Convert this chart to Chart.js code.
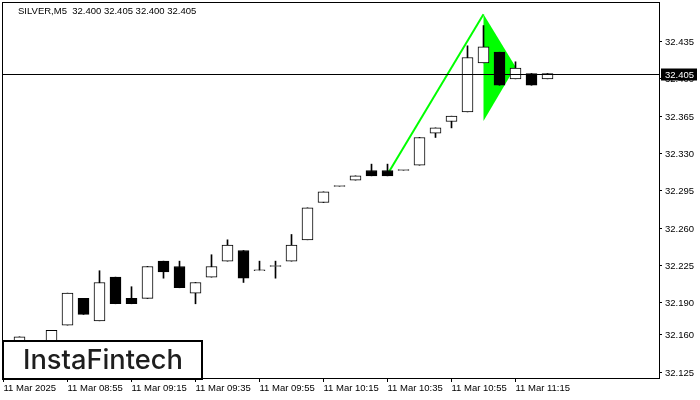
<!DOCTYPE html>
<html>
<head>
<meta charset="utf-8">
<script src="https://cdn.jsdelivr.net/npm/chart.js@4.4.1/dist/chart.umd.min.js"></script>
<style>
  html, body { margin: 0; padding: 0; background: #fff; }
  #wrap { width: 700px; height: 400px; }
</style>
</head>
<body>
<div id="wrap"><canvas id="chart" width="700" height="400"></canvas></div>
<script>
// M5 bars, 11 Mar 2025 (null = bar hidden under the logo)
const times = ['08:35', '08:40', '08:45', '08:50', '08:55', '09:00', '09:05', '09:10', '09:15', '09:20',
  '09:25', '09:30', '09:35', '09:40', '09:45', '09:50', '09:55', '10:00', '10:05', '10:10',
  '10:15', '10:20', '10:25', '10:30', '10:35', '10:40', '10:45', '10:50', '10:55', '11:00',
  '11:05', '11:10', '11:15', '11:20', '11:25'];
const opens = [null, 32.154, null, 32.150, 32.169, 32.194, 32.173, 32.214, 32.194, 32.194,
  32.229, 32.224, 32.199, 32.214, 32.229, 32.239, 32.220, 32.224, 32.229, 32.249,
  32.284, 32.299, 32.305, 32.314, 32.314, 32.314, 32.319, 32.349, 32.360, 32.369,
  32.415, 32.425, 32.400, 32.405, 32.400];
const highs = [null, 32.158, null, 32.164, 32.199, 32.194, 32.220, 32.214, 32.205, 32.224,
  32.229, 32.229, 32.209, 32.235, 32.249, 32.239, 32.229, 32.229, 32.254, 32.279,
  32.294, 32.299, 32.309, 32.320, 32.320, 32.314, 32.345, 32.354, 32.365, 32.431,
  32.450, 32.425, 32.416, 32.405, 32.405];
const lows = [null, 32.154, null, 32.150, 32.169, 32.179, 32.173, 32.189, 32.189, 32.194,
  32.213, 32.204, 32.189, 32.214, 32.229, 32.209, 32.220, 32.213, 32.229, 32.249,
  32.284, 32.299, 32.305, 32.309, 32.309, 32.314, 32.319, 32.345, 32.354, 32.369,
  32.415, 32.394, 32.400, 32.394, 32.400];
const closes = [null, 32.158, null, 32.164, 32.199, 32.179, 32.209, 32.189, 32.189, 32.224,
  32.219, 32.204, 32.209, 32.224, 32.244, 32.213, 32.220, 32.224, 32.244, 32.279,
  32.294, 32.299, 32.309, 32.309, 32.309, 32.314, 32.345, 32.354, 32.365, 32.420,
  32.430, 32.394, 32.410, 32.394, 32.405];

// price scale labels
const yTicks = [32.125, 32.160, 32.190, 32.225, 32.260, 32.295, 32.330, 32.365, 32.400, 32.435];

// bullish pennant: pole (bar index, price) and the triangle
const poleIdx = [24, 30];
const polePrice = [32.3105, 32.4606];
const flagIdx = [30, 32, 30];
const flagPrice = [32.4606, 32.4114, 32.3605];

const title = 'SILVER,M5  32.400 32.405 32.400 32.405';
const FONT = 'Liberation Sans';

const wicks = [];
const bodies = [];
const bodyColors = [];
times.forEach((t, i) => {
  if (opens[i] === null) return;
  wicks.push({ x: i, y: [lows[i], highs[i]] });
  bodies.push({ x: i, y: [Math.min(opens[i], closes[i]), Math.max(opens[i], closes[i])] });
  bodyColors.push(closes[i] >= opens[i] ? '#ffffff' : '#000000');
});

const terminal = {
  id: 'terminal',
  beforeDatasetsDraw(chart) {
    const { ctx, chartArea: a, scales: { x, y } } = chart;
    ctx.save();
    ctx.beginPath();
    ctx.rect(a.left, a.top, a.right - a.left, a.bottom - a.top);
    ctx.clip();
    // flag
    ctx.fillStyle = '#00ff00';
    ctx.beginPath();
    flagIdx.forEach((v, i) => {
      const px = x.getPixelForValue(v), py = y.getPixelForValue(flagPrice[i]);
      if (i === 0) ctx.moveTo(px, py); else ctx.lineTo(px, py);
    });
    ctx.closePath();
    ctx.fill();
    // pole
    ctx.strokeStyle = '#00ff00';
    ctx.lineWidth = 2;
    ctx.beginPath();
    ctx.moveTo(x.getPixelForValue(poleIdx[0]), y.getPixelForValue(polePrice[0]));
    ctx.lineTo(x.getPixelForValue(poleIdx[1]), y.getPixelForValue(polePrice[1]));
    ctx.stroke();
    ctx.restore();
  },
  afterDraw(chart) {
    const { ctx, chartArea: a, scales: { y } } = chart;
    const last = closes[closes.length - 1];
    const py = Math.round(y.getPixelForValue(last)) + 0.5;
    ctx.save();
    // frame
    ctx.strokeStyle = '#000';
    ctx.lineWidth = 1;
    ctx.strokeRect(a.left - 0.5, a.top - 0.5, a.right - a.left + 1, a.bottom - a.top + 1);
    // bid line
    ctx.beginPath();
    ctx.moveTo(a.left, py);
    ctx.lineTo(a.right, py);
    ctx.stroke();
    // bid label
    ctx.fillStyle = '#000';
    ctx.fillRect(a.right + 2, py - 6, 36, 12);
    ctx.fillStyle = '#fff';
    ctx.font = '9.5px "' + FONT + '"';
    ctx.textBaseline = 'middle';
    ctx.textAlign = 'left';
    ctx.fillText(last.toFixed(3), a.right + 6, py + 0.5);
    // title
    ctx.fillStyle = '#000';
    ctx.fillText(title, 18, 11);
    // logo
    ctx.fillStyle = '#fff';
    ctx.fillRect(3, 341, 199, 38);
    ctx.strokeStyle = '#000';
    ctx.lineWidth = 2;
    ctx.strokeRect(3, 341, 199, 38);
    ctx.fillStyle = '#1e1e1e';
    let size = 26;
    ctx.font = '500 ' + size + 'px "Inter"';
    size = size * 160 / ctx.measureText('InstaFintech').width;
    ctx.font = '500 ' + size + 'px "Inter"';
    ctx.textBaseline = 'alphabetic';
    ctx.fillText('InstaFintech', 23, 368.5);
    ctx.restore();
  }
};

Chart.defaults.font.family = FONT;
Chart.defaults.font.size = 9.5;
Chart.defaults.color = '#000';

new Chart(document.getElementById('chart'), {
  type: 'bar',
  data: {
    datasets: [
      {
        data: wicks,
        backgroundColor: '#000',
        barThickness: 1,
        grouped: false,
        order: 2
      },
      {
        data: bodies,
        backgroundColor: bodyColors,
        borderColor: '#000',
        borderWidth: 1,
        borderSkipped: false,
        barThickness: 11,
        minBarLength: 1,
        grouped: false,
        order: 1
      }
    ]
  },
  options: {
    responsive: false,
    animation: false,
    layout: { padding: { left: 3, top: 3, right: 0, bottom: 0 } },
    plugins: { legend: { display: false }, tooltip: { enabled: false } },
    scales: {
      x: {
        type: 'linear',
        offset: false,
        min: -1 / 32,
        max: 41 - 1 / 32,
        afterFit: (s) => { s.height = 22; s.paddingLeft = 0; s.paddingRight = 0; },
        afterBuildTicks: (s) => {
          s.ticks = times.map((t, i) => ({ value: i })).filter((t) => t.value % 4 === 0);
        },
        grid: { drawOnChartArea: false, color: '#000', tickLength: 4, offset: false },
        border: { display: false },
        ticks: {
          autoSkip: false,
          maxRotation: 0,
          align: 'start',
          padding: 1,
          callback: (v) => (v === 0 ? '11 Mar 2025' : '11 Mar ' + times[v])
        }
      },
      y: {
        position: 'right',
        min: 32.125 - 6 / 1066,
        max: 32.125 + 369 / 1066,
        afterFit: (s) => { s.width = 41; s.paddingTop = 0; s.paddingBottom = 0; },
        afterBuildTicks: (s) => { s.ticks = yTicks.map((v) => ({ value: v })); },
        grid: { drawOnChartArea: false, color: '#000', tickLength: 3 },
        border: { display: false },
        ticks: {
          padding: 3,
          labelOffset: 1,
          callback: (v) => v.toFixed(3)
        }
      }
    }
  },
  plugins: [terminal]
});
</script>
</body>
</html>
